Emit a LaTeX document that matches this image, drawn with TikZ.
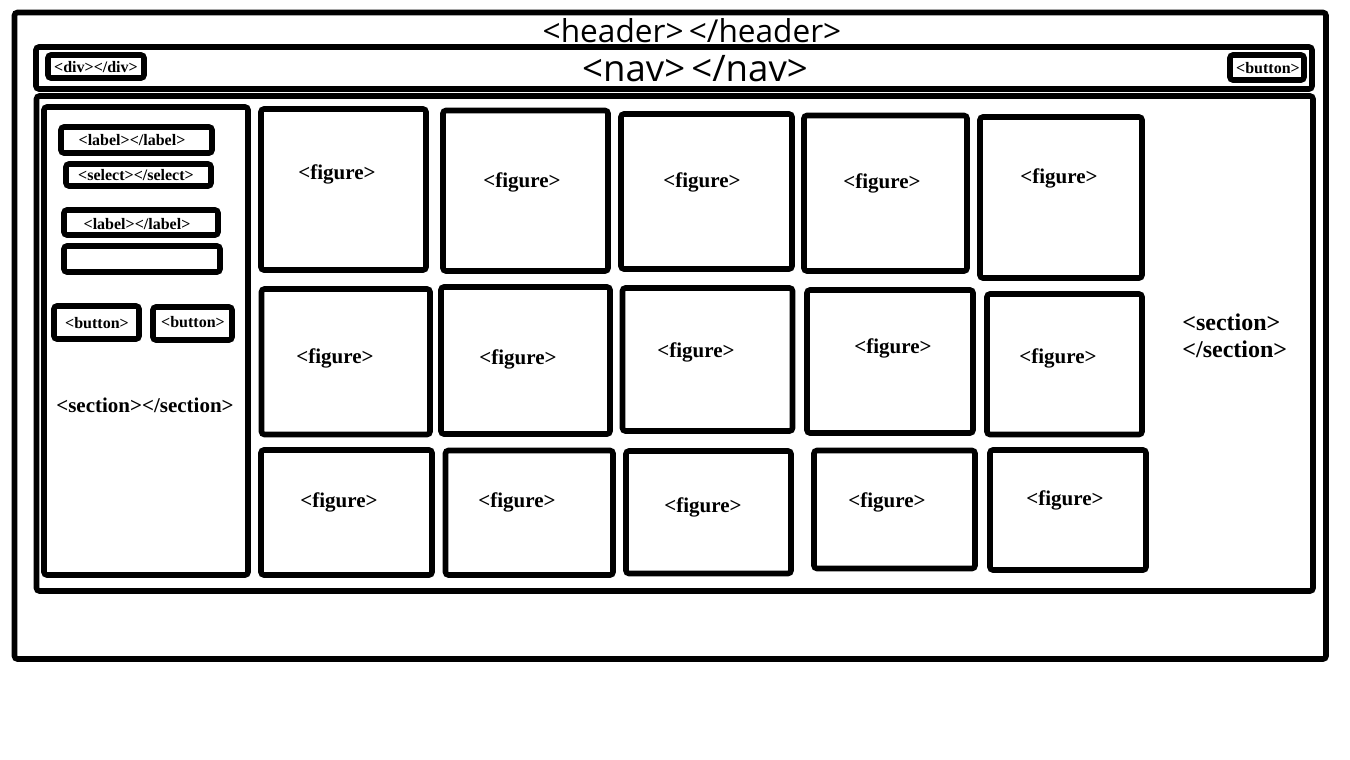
\documentclass[tikz,border=0pt]{standalone}
\usepackage{fontspec}
\setmainfont{Liberation Serif}
\newfontfamily\uisans{Open Sans}
\usetikzlibrary{fit}

\tikzset{
  frame/.style={draw=black, line width=2.8pt, rounded corners=1.5pt, inner sep=0pt, fill=white},
  tag/.style={font=\bfseries\fontsize{8}{9}\selectfont, inner sep=0pt},
  figtxt/.style={font=\bfseries\fontsize{10.5}{12}\selectfont, inner sep=0pt},
  sectxt/.style={font=\bfseries\fontsize{10.5}{12}\selectfont, inner sep=0pt},
}

% box from two corner points (centre lines of the border)
\newcommand{\boxat}[5]{\node[frame, fit={(#2,#3) (#4,#5)}] (#1) {};}

\begin{document}
\begin{tikzpicture}[x=0.5pt, y=-0.5pt]
\useasboundingbox[fill=white] (0,0) rectangle (1350,760);

% page frame (header)
\boxat{header}{14.5}{12.5}{1326}{659}
\node[font=\uisans\fontsize{15.8}{18}\selectfont, inner sep=0pt] (headertxt) at (692,31) {<header>\,</header>};

% navigation bar
\boxat{nav}{36}{47}{1312}{89}
\node[font=\uisans\fontsize{18.3}{21}\selectfont, inner sep=0pt] (navtxt) at (695,69) {<nav>\,</nav>};
\boxat{navdiv}{48}{55}{144}{78}
\node[tag] (navdivtxt) at (96,67) {<div></div>};
\boxat{navbtn}{1230}{55}{1304}{80}
\node[tag] (navbtntxt) at (1268,68.5) {<button>};

% main section
\boxat{main}{36.5}{96}{1313}{591}
\node[font=\bfseries\fontsize{12}{13.5}\selectfont, inner sep=0pt, anchor=west, align=left] (maintxt) at (1182,336) {<section>\\</section>};

% side panel with form controls
\boxat{side}{44}{107}{248}{575}
\node[sectxt] (sidetxt) at (145,405) {<section></section>};
\boxat{lab1}{61}{127}{212}{153}
\node[tag] (lab1txt) at (132,140) {<label></label>};
\boxat{sel}{66}{164}{211}{186}
\node[tag] (seltxt) at (136,175) {<select></select>};
\boxat{lab2}{64}{210}{218}{235}
\node[tag] (lab2txt) at (137,224) {<label></label>};
\boxat{inp}{64}{246}{220}{272}
\boxat{btna}{54}{306}{139}{339}
\node[tag] (btnatxt) at (97,323) {<button>};
\boxat{btnb}{153}{307}{232}{340}
\node[tag] (btnbtxt) at (193,322) {<button>};

% figure grid
\foreach \n/\xa/\ya/\xb/\yb/\tx/\ty in {
  f11/261/109/426/270/337/174,
  f12/443/110.5/608/271/522/182,
  f13/621/114/792/269/702/182,
  f14/804/115.5/967/271/882/183,
  f15/980/117/1142/278/1059/178,
  f21/261.5/289/430/434.5/335/358,
  f22/441/287/610/434/518/359,
  f23/622.5/288/792.5/431/696/352,
  f24/807/290/973/433/893/348,
  f25/987/294/1142/434.5/1058/358,
  f31/261/450/432/575/339/502,
  f32/445.5/450.5/613/575/517/502,
  f33/626/451/791/573.5/703/507,
  f34/814/450.5/975/568.5/887/502,
  f35/990/450/1146/570/1065/500}{
  \node[frame, fit={(\xa,\ya) (\xb,\yb)}] (\n) {};
  \node[figtxt] (\n txt) at (\tx,\ty) {<figure>};
}
\end{tikzpicture}
\end{document}
